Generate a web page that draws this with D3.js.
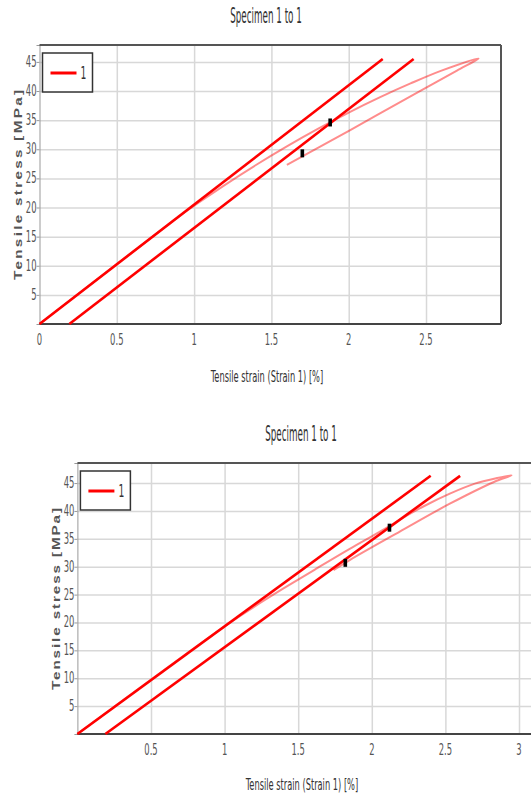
<!DOCTYPE html>
<html>
<head>
<meta charset="utf-8">
<script src="https://cdn.jsdelivr.net/npm/d3@7"></script>
<style>
  body { margin: 0; background: #fff; }
</style>
</head>
<body>
<script>
const W = 531, H = 796;

// tick labels
const xTicksTop = [0, 0.5, 1, 1.5, 2, 2.5];
const xTicksBottom = [0.5, 1, 1.5, 2, 2.5, 3];
const yTicks = [5, 10, 15, 20, 25, 30, 35, 40, 45];

// top chart: [strain %, stress MPa]
const topLineA = [[0, 0], [2.22, 45.5]];
const topLineB = [[0.193, 0], [2.42, 45.5]];
const topLoop = [[0, 0], [0.9, 18.4], [1.0, 20.3], [1.2, 23.9], [1.4, 27.3], [1.6, 30.5],
  [1.8, 33.5], [2.0, 36.3], [2.2, 38.9], [2.4, 41.3], [2.6, 43.5], [2.84, 45.6],
  [2.70, 43.5], [2.44, 39.7], [2.01, 33.3], [1.60, 27.3]];
const topMarks = [[1.88, 34.6], [1.70, 29.3]];

// bottom chart
const botLineA = [[0, 0], [2.40, 46.3]];
const botLineB = [[0.19, 0], [2.60, 46.3]];
const botLoop = [[0, 0], [1.0, 19.3], [1.2, 22.8], [1.4, 26.1], [1.62, 29.6], [1.85, 33.2],
  [2.05, 36.2], [2.2, 38.6], [2.35, 40.8], [2.53, 43.1], [2.7, 44.9], [2.85, 45.9], [2.95, 46.4],
  [2.83, 45.2], [2.53, 41.3], [2.19, 36.3], [1.85, 31.2], [1.74, 29.4]];
const botMarks = [[2.12, 37.0], [1.82, 30.7]];

const seriesName = "1";
const title = "Specimen 1 to 1";
const xTitle = "Tensile strain (Strain 1) [%]";
const yTitle = "Tensile stress [MPa]";

const svg = d3.select("body").append("svg")
  .attr("width", W).attr("height", H);

const narrow = "'Liberation Sans Narrow', 'DejaVu Sans Condensed', 'Arial Narrow', sans-serif";
const SY = 1.45; // picture is stretched vertically

// text squeezed / stretched like the reference
function label(g, x, y, str, size, anchor, fill, sx) {
  return g.append("text")
    .attr("transform", "translate(" + x + "," + y + ") scale(" + (sx || 1) + "," + SY + ")")
    .attr("text-anchor", anchor || "middle")
    .attr("font-family", narrow)
    .attr("font-size", size)
    .attr("fill", fill || "#444")
    .text(str);
}

function drawChart(c) {
  const g = svg.append("g");
  const x = d3.scaleLinear().domain(c.xDomain).range([c.left, c.right]);
  const y = d3.scaleLinear().domain(c.yDomain).range([c.bottom, c.top]);

  // grid
  g.append("g")
    .attr("transform", "translate(0," + c.bottom + ")")
    .call(d3.axisBottom(x).tickValues(c.xTicks.filter(d => d > 0)).tickSize(-(c.bottom - c.top)).tickFormat(""))
    .call(a => a.select(".domain").remove())
    .selectAll("line").attr("stroke", "#d8d8d8").attr("stroke-width", 1.5);
  g.append("g")
    .attr("transform", "translate(" + c.left + ",0)")
    .call(d3.axisLeft(y).tickValues(yTicks).tickSize(-(c.right - c.left)).tickFormat(""))
    .call(a => a.select(".domain").remove())
    .selectAll("line").attr("stroke", "#d8d8d8").attr("stroke-width", 1.5);

  // small ticks on the left
  g.append("g")
    .attr("transform", "translate(" + c.left + ",0)")
    .call(d3.axisLeft(y).tickValues(yTicks).tickSize(3).tickFormat(""))
    .call(a => a.select(".domain").attr("stroke", "#999"))
    .selectAll("line").attr("stroke", "#999");

  // frame
  g.append("line").attr("x1", c.left).attr("x2", c.right).attr("y1", c.top).attr("y2", c.top)
    .attr("stroke", "#555").attr("stroke-width", 2);
  g.append("line").attr("x1", c.right).attr("x2", c.right).attr("y1", c.top).attr("y2", c.bottom)
    .attr("stroke", "#555").attr("stroke-width", 2);
  g.append("line").attr("x1", c.left).attr("x2", c.right).attr("y1", c.bottom).attr("y2", c.bottom)
    .attr("stroke", "#444").attr("stroke-width", 2.2);

  // tick labels
  c.xTicks.forEach(t => label(g, x(t), c.bottom + 21, d3.format("~g")(t), 11, "middle", "#555", 0.85));
  yTicks.forEach(t => label(g, c.left - 3, y(t) + 5, t, 11, "end", "#555", 0.85));

  // titles
  label(g, c.titleX, c.titleY, title, 15, "middle", "#333", 0.65);
  label(g, c.xTitleX, c.xTitleY, xTitle, 11.5, "middle", "#333", 0.8);
  g.append("text")
    .attr("transform", "translate(" + c.yTitleX + "," + c.yTitleY + ") scale(1," + SY + ") rotate(-90)")
    .attr("text-anchor", "middle")
    .attr("font-family", "'Liberation Sans', Arial, sans-serif")
    .attr("font-weight", "bold")
    .attr("font-size", 10.5)
    .attr("fill", "#555")
    .attr("textLength", c.yTitleLen / SY)
    .attr("lengthAdjust", "spacing")
    .text(yTitle);

  // curves
  const plot = g.append("g");
  const line = d3.line().x(d => x(d[0])).y(d => y(d[1]));
  plot.append("path").datum(c.loop)
    .attr("d", line.curve(d3.curveCatmullRom.alpha(0.5)))
    .attr("fill", "none").attr("stroke", "#ff0000").attr("stroke-opacity", 0.45)
    .attr("stroke-width", 2).attr("stroke-linejoin", "round");
  [c.lineA, c.lineB].forEach(s => {
    plot.append("path").datum(s)
      .attr("d", d3.line().x(d => x(d[0])).y(d => y(d[1])))
      .attr("fill", "none").attr("stroke", "#ff0000").attr("stroke-width", 2.6);
  });
  plot.selectAll("rect.mark").data(c.marks).enter().append("rect")
    .attr("class", "mark")
    .attr("x", d => x(d[0]) - 1.8).attr("y", d => y(d[1]) - 4)
    .attr("width", 3.6).attr("height", 8).attr("fill", "#000");

  // legend
  const lg = g.append("g");
  lg.append("rect").attr("x", c.left + 3).attr("y", c.top + 8)
    .attr("width", 50).attr("height", 39)
    .attr("fill", "#fff").attr("stroke", "#333").attr("stroke-width", 1.5);
  lg.append("line").attr("x1", c.left + 11).attr("x2", c.left + 37)
    .attr("y1", c.top + 28).attr("y2", c.top + 28)
    .attr("stroke", "#ff0000").attr("stroke-width", 3);
  label(lg, c.left + 41, c.top + 34, seriesName, 12, "start", "#333", 0.85);
}

drawChart({
  xDomain: [0, 2.985], yDomain: [0, 47.9],
  left: 39.5, right: 501, top: 45, bottom: 324,
  xTicks: xTicksTop,
  lineA: topLineA, lineB: topLineB, loop: topLoop, marks: topMarks,
  titleX: 266, titleY: 23, xTitleX: 267, xTitleY: 382,
  yTitleX: 22, yTitleY: 185, yTitleLen: 190
});

drawChart({
  xDomain: [0, 3.125], yDomain: [0, 48.6],
  left: 77.4, right: 537.4, top: 463, bottom: 734,
  xTicks: xTicksBottom,
  lineA: botLineA, lineB: botLineB, loop: botLoop, marks: botMarks,
  titleX: 301, titleY: 441, xTitleX: 302, xTitleY: 790,
  yTitleX: 60, yTitleY: 599, yTitleLen: 182
});
</script>
</body>
</html>
